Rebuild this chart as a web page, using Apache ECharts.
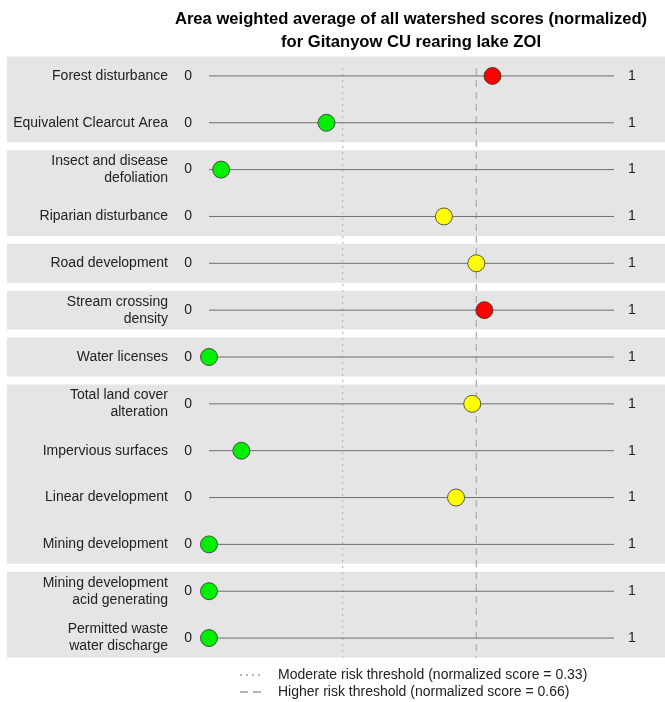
<!DOCTYPE html>
<html>
<head>
<meta charset="utf-8">
<script src="https://cdn.jsdelivr.net/npm/echarts@6/dist/echarts.min.js"></script>
<style>
  html, body { margin: 0; padding: 0; background: #fff; }
  #chart { width: 665px; height: 702px; }
</style>
</head>
<body>
<div id="chart"></div>
<script>
// indicator names, top to bottom
const categories = [
  'Forest disturbance',
  'Equivalent Clearcut Area',
  'Insect and disease\ndefoliation',
  'Riparian disturbance',
  'Road development',
  'Stream crossing\ndensity',
  'Water licenses',
  'Total land cover\nalteration',
  'Impervious surfaces',
  'Linear development',
  'Mining development',
  'Mining development\nacid generating',
  'Permitted waste\nwater discharge'
]
// normalized scores
const scores = [0.70, 0.29, 0.03, 0.58, 0.66, 0.68, 0, 0.65, 0.08, 0.61, 0, 0, 0]
const pointColors = ['#ff0000', '#00ee00', '#00ee00', '#ffff00', '#ffff00', '#ff0000', '#00ee00',
  '#ffff00', '#00ee00', '#ffff00', '#00ee00', '#00ee00', '#00ee00']
// grey bands: first and last row index of each group
const bandGroups = [[0, 1], [2, 3], [4, 4], [5, 5], [6, 6], [7, 10], [11, 12]]
const thresholds = [0.33, 0.66]
const thresholdNames = [
  'Moderate risk threshold (normalized score = 0.33)',
  'Higher risk threshold (normalized score = 0.66)'
]

const chart = echarts.init(document.getElementById('chart'))

const font = 'Liberation Sans, Arial, sans-serif'
const lastRow = categories.length - 1

function renderBand(params, api) {
  const first = api.value(0)
  const last = api.value(1)
  const half = api.size([0, 1])[1] * 0.415
  const y0 = api.coord([0, first])[1] - half
  const y1 = api.coord([0, last])[1] + half
  return {
    type: 'rect',
    shape: { x: 7, y: y0, width: 658, height: y1 - y0 },
    style: { fill: '#e5e5e5' }
  }
}

function renderRowLine(params, api) {
  const row = api.value(1)
  const p0 = api.coord([0, row])
  const p1 = api.coord([1, row])
  return {
    type: 'line',
    shape: { x1: p0[0], y1: p0[1], x2: p1[0], y2: p1[1] },
    style: { stroke: '#6e6e6e', lineWidth: 1 }
  }
}

function thresholdRenderer(dash, color) {
  return function (params, api) {
    const v = api.value(0)
    const top = api.coord([v, 0])
    const bottom = api.coord([v, lastRow])
    const half = api.size([0, 1])[1] * 0.415
    return {
      type: 'line',
      shape: { x1: top[0], y1: top[1] - 8, x2: bottom[0], y2: bottom[1] + half },
      style: { stroke: color, lineWidth: 1.3, lineDash: dash }
    }
  }
}

const dottedIcon = 'path://M0,0h2v2h-2z M6,0h2v2h-2z M12,0h2v2h-2z M18,0h2v2h-2z M32.9,0h0.1v0.1h-0.1z'
const dashedIcon = 'path://M0,0h8v2h-8z M13,0h8v2h-8z M32.9,0h0.1v0.1h-0.1z'

const labelStyle = { fontFamily: font, fontSize: 14, color: '#222' }

chart.setOption({
  animation: false,
  title: {
    text: 'Area weighted average of all watershed scores (normalized)\nfor Gitanyow CU rearing lake ZOI',
    left: 406,
    top: 3,
    textAlign: 'center',
    textStyle: { fontFamily: font, fontSize: 16.6, fontWeight: 'bold', color: '#000', lineHeight: 23 }
  },
  legend: {
    left: 240,
    top: 668,
    padding: 0,
    orient: 'vertical',
    itemGap: 3,
    itemWidth: 33,
    itemHeight: 2,
    textStyle: labelStyle,
    data: [
      { name: thresholdNames[0], icon: dottedIcon, itemStyle: { color: '#b5b5b5' } },
      { name: thresholdNames[1], icon: dashedIcon, itemStyle: { color: '#b5b5b5' } }
    ]
  },
  grid: { left: 209, right: 51, top: 52.5, height: 609 },
  xAxis: {
    type: 'value', min: 0, max: 1,
    axisLine: { show: false }, axisTick: { show: false },
    axisLabel: { show: false }, splitLine: { show: false }
  },
  yAxis: [
    {
      type: 'category', data: categories, inverse: true, z: 10,
      axisLine: { show: false }, axisTick: { show: false }, splitLine: { show: false },
      axisLabel: Object.assign({ margin: 41, lineHeight: 17, align: 'right', padding: [4, 0, 0, 0] }, labelStyle)
    },
    {
      type: 'category', data: categories, inverse: true, position: 'left', z: 10,
      axisLine: { show: false }, axisTick: { show: false }, splitLine: { show: false },
      axisLabel: Object.assign({ margin: 17, padding: [4, 0, 0, 0], formatter: () => '0' }, labelStyle)
    },
    {
      type: 'category', data: categories, inverse: true, position: 'right', z: 10,
      axisLine: { show: false }, axisTick: { show: false }, splitLine: { show: false },
      axisLabel: Object.assign({ margin: 14, padding: [4, 0, 0, 0], formatter: () => '1' }, labelStyle)
    }
  ],
  series: [
    {
      type: 'custom', name: 'bands', silent: true, clip: false, z: 1,
      renderItem: renderBand,
      data: bandGroups
    },
    {
      type: 'custom', name: thresholdNames[0], clip: false, z: 2,
      itemStyle: { color: '#b5b5b5' },
      renderItem: thresholdRenderer([2, 4], '#bdbdbd'),
      data: [[thresholds[0], 0]]
    },
    {
      type: 'custom', name: thresholdNames[1], clip: false, z: 2,
      itemStyle: { color: '#b5b5b5' },
      renderItem: thresholdRenderer([7, 5], '#b0b0b0'),
      data: [[thresholds[1], 0]]
    },
    {
      type: 'custom', name: 'rows', silent: true, clip: false, z: 3,
      renderItem: renderRowLine,
      data: scores.map((s, i) => [0, i])
    },
    {
      type: 'scatter', name: 'score', z: 4,
      symbolSize: 17,
      data: scores.map((s, i) => ({
        value: [s, i],
        itemStyle: { color: pointColors[i], borderColor: '#333', borderWidth: 0.8, opacity: 1 }
      }))
    }
  ]
})
</script>
</body>
</html>
